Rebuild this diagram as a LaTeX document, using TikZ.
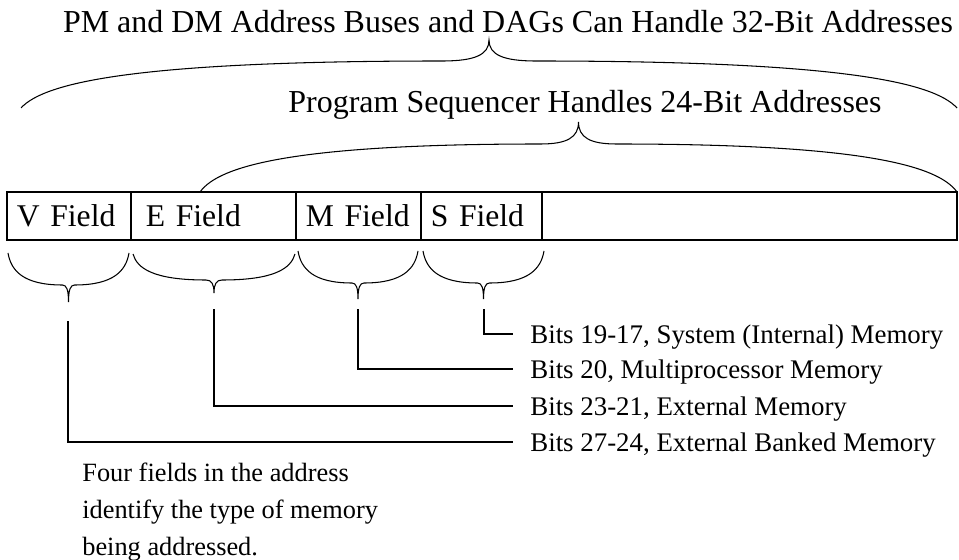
\documentclass[tikz,border=0pt]{standalone}
\usepackage{fontspec}
\setmainfont{Liberation Serif}
\usetikzlibrary{positioning}

% curly brace: left x, right x, end y, middle y, tip y
\newcommand{\fieldbrace}[5]{%
  \pgfmathsetmacro{\bxc}{(#1+#2)/2}
  \pgfmathsetmacro{\bh}{(#2-#1)/2}
  \draw[brace line] (#1,#3)
    .. controls ({#1+0.05*\bh},{#4+0.45*(#3-#4)}) and ({#1+0.25*\bh},#4) .. ({\bxc-0.1*\bh},#4)
    .. controls ({\bxc-0.03*\bh},#4) and (\bxc,{#4-0.3*(#4-#5)}) .. (\bxc,#5)
    .. controls (\bxc,{#4-0.3*(#4-#5)}) and ({\bxc+0.03*\bh},#4) .. ({\bxc+0.1*\bh},#4)
    .. controls ({#2-0.25*\bh},#4) and ({#2-0.05*\bh},{#4+0.45*(#3-#4)}) .. (#2,#3);
}

\begin{document}
\begin{tikzpicture}[x=0.02cm,y=-0.02cm,
  field/.style={draw,line width=1pt,minimum height=0.96cm,text width=#1,inner xsep=0.2cm,inner ysep=0pt,outer sep=0pt,align=left,font=\fontsize{18}{20}\selectfont},
  head/.style={anchor=base,font=\fontsize{18.2}{20}\selectfont},
  bits/.style={anchor=west,inner xsep=0.34cm,inner ysep=0pt,text depth=0pt,font=\fontsize{15.3}{18}\selectfont},
  lead/.style={line width=1pt},
  brace line/.style={line width=0.6pt},
]
  \useasboundingbox (0,0) rectangle (959,560);

  \node[head] (wide) at (508,33) {PM and DM Address Buses and DAGs Can Handle 32-Bit Addresses};
  \node[head] (narrow) at (585,113) {Program Sequencer Handles 24-Bit Addresses};
  \fieldbrace{21}{957}{108}{61}{40}
  \fieldbrace{200}{957}{192}{144}{122}

  \node[field=2.08cm,anchor=west] (vfield) at (7,216) {V Field};
  \node[field=2.9cm,right=0pt of vfield] (efield) {\hspace{0.1cm}E Field};
  \node[field=2.1cm,right=0pt of efield] (mfield) {M Field};
  \node[field=2.02cm,right=0pt of mfield] (sfield) {S Field};
  \node[field=7.9cm,right=0pt of sfield] (rest) {};

  \fieldbrace{8}{129}{253}{285}{302}
  \fieldbrace{133}{295}{254}{280}{293}
  \fieldbrace{298}{418}{251}{283}{299}
  \fieldbrace{423}{544}{251}{283}{299}

  \coordinate (vdrop) at (68,321);
  \coordinate (edrop) at (214,309);
  \coordinate (mdrop) at (358,309);
  \coordinate (sdrop) at (484,309);

  \node[bits] (slabel) at (513,334) {Bits 19-17, System (Internal) Memory};
  \node[bits] (mlabel) at (513,369) {Bits 20, Multiprocessor Memory};
  \node[bits] (elabel) at (513,406) {Bits 23-21, External Memory};
  \node[bits] (vlabel) at (513,442) {Bits 27-24, External Banked Memory};

  \draw[lead] (sdrop) |- (slabel.west);
  \draw[lead] (mdrop) |- (mlabel.west);
  \draw[lead] (edrop) |- (elabel.west);
  \draw[lead] (vdrop) |- (vlabel.west);

  \node[anchor=north west,inner sep=0pt,align=left,font=\fontsize{15}{21}\selectfont] (note) at (82,463)
    {Four fields in the address\\identify the type of memory\\being addressed.};
\end{tikzpicture}
\end{document}
